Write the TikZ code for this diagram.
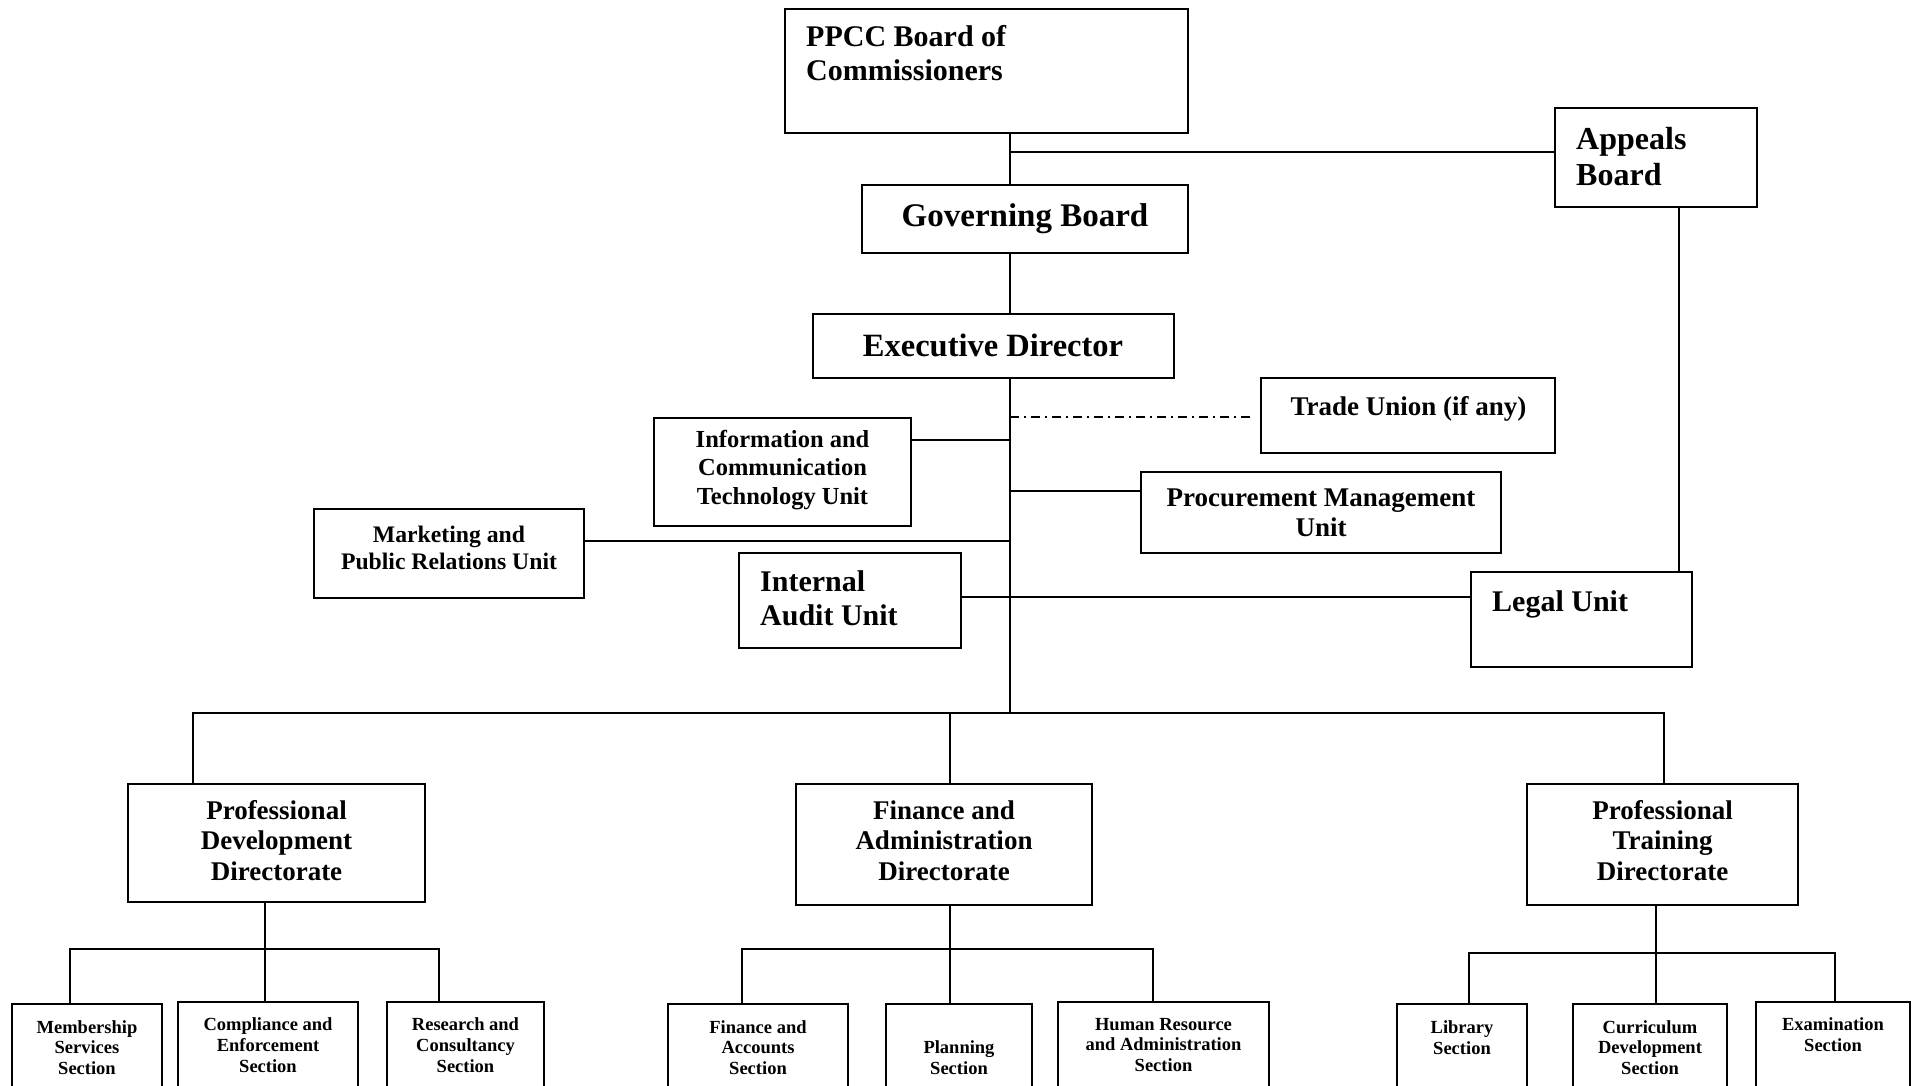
\documentclass[tikz,border=0pt]{standalone}
\usepackage{fontspec}
\setmainfont{Liberation Serif}
\newcommand\fsz[2]{\fontsize{#1}{#2}\selectfont\bfseries}
\newcommand\obox[5]{\node[box, minimum width={(#4)-(#2)}, minimum height={(#5)-(#3)}] (#1) at ({((#2)+(#4))/2},{((#3)+(#5))/2}) {};}
\tikzset{
  box/.style={draw, rectangle, line width=2pt, inner sep=0pt, fill=white},
  lbl/.style={inner sep=0pt, align=center},
  lbll/.style={inner sep=0pt, align=left, anchor=west},
  conn/.style={line width=2pt, line cap=rect},
  dashdotline/.style={line width=1.5pt, dash pattern=on 9pt off 5pt on 2pt off 5pt},
}
\begin{document}
\begin{tikzpicture}[x=1pt, y=-1pt]
\useasboundingbox (0,0) rectangle (1914,1086);
\clip (0,0) rectangle (1914,1086);
\fill[white] (0,0) rectangle (1914,1086);

% reference coordinates for vertical lines
\coordinate (tx) at (1010,0);
\coordinate (ax) at (1679,0);

\coordinate (ja) at (1010,152);
\coordinate (c0) at (1010,417);
\coordinate (c1) at (1010,440);
\coordinate (c2) at (1010,491);
\coordinate (c3) at (1010,541);
\coordinate (c4) at (1010,597);
\coordinate (bus) at (1010,713);
\coordinate (b1) at (193,713);
\coordinate (b2) at (950,713);
\coordinate (b3) at (1664,713);
\coordinate (p1) at (70,949);
\coordinate (p2) at (265,949);
\coordinate (p3) at (439,949);
\coordinate (f1) at (742,949);
\coordinate (f2) at (950,949);
\coordinate (f3) at (1153,949);
\coordinate (t1) at (1469,953);
\coordinate (t2) at (1656,953);
\coordinate (t3) at (1835,953);

% boxes
\obox{ppcc}{785}{9}{1188}{133}
\obox{appeals}{1555}{108}{1757}{207}
\obox{gov}{862}{185}{1188}{253}
\obox{ed}{813}{314}{1174}{378}
\obox{trade}{1261}{378}{1555}{453}
\obox{ict}{654}{418}{911}{526}
\obox{proc}{1141}{472}{1501}{553}
\obox{mkt}{314}{509}{584}{598}
\obox{audit}{739}{553}{961}{648}
\obox{legal}{1471}{572}{1692}{667}
\obox{pdd}{128}{784}{425}{902}
\obox{fad}{796}{784}{1092}{905}
\obox{ptd}{1527}{784}{1798}{905}
\obox{mem}{12}{1004}{162}{1100}
\obox{comp}{178}{1002}{358}{1100}
\obox{res}{387}{1002}{544}{1100}
\obox{fa}{668}{1004}{848}{1100}
\obox{plan}{886}{1004}{1032}{1100}
\obox{hr}{1058}{1002}{1269}{1100}
\obox{lib}{1397}{1004}{1527}{1100}
\obox{cur}{1573}{1004}{1727}{1100}
\obox{exam}{1756}{1002}{1910}{1100}

% connectors
\draw[conn] (ppcc.south -| tx) -- (gov.north -| tx);
\draw[conn] (ja) -- (ja -| appeals.west);
\draw[conn] (appeals.south -| ax) -- (legal.north -| ax);
\draw[conn] (gov.south -| tx) -- (ed.north -| tx);
\draw[conn] (ed.south -| tx) -- (bus);
\draw[dashdotline] (c0) -- ([xshift=-6pt]c0 -| trade.west);
\draw[conn] (c1) -- (c1 -| ict.east);
\draw[conn] (c2) -- (c2 -| proc.west);
\draw[conn] (c3) -- (c3 -| mkt.east);
\draw[conn] (c4 -| audit.east) -- (c4 -| legal.west);
\draw[conn] (b1) -- (b3);
\draw[conn] (b1) -- (pdd.north -| b1);
\draw[conn] (b2) -- (fad.north -| b2);
\draw[conn] (b3) -- (ptd.north -| b3);
% PDD sections
\draw[conn] (pdd.south -| p2) -- (p2);
\draw[conn] (p1) -- (p3);
\draw[conn] (p1) -- (mem.north -| p1);
\draw[conn] (p2) -- (comp.north -| p2);
\draw[conn] (p3) -- (res.north -| p3);
% FAD sections
\draw[conn] (fad.south -| f2) -- (f2);
\draw[conn] (f1) -- (f3);
\draw[conn] (f1) -- (fa.north -| f1);
\draw[conn] (f2) -- (plan.north -| f2);
\draw[conn] (f3) -- (hr.north -| f3);
% PTD sections
\draw[conn] (ptd.south -| t2) -- (t2);
\draw[conn] (t1) -- (t3);
\draw[conn] (t1) -- (lib.north -| t1);
\draw[conn] (t2) -- (cur.north -| t2);
\draw[conn] (t3) -- (exam.north -| t3);

% labels
\node[lbll, font=\fsz{30}{34}] (ppcct) at (806,53) {PPCC Board of\\Commissioners};
\node[lbll, font=\fsz{32}{36}] (appealst) at (1576,157) {Appeals\\Board};
\node[lbl, font=\fsz{33}{38}] (govt) at (1025,219) {Governing Board};
\node[lbl, font=\fsz{32.5}{37}] (edt) at (993,345) {Executive Director};
\node[lbl, font=\fsz{27}{31}] (tradet) at (1408.5,408.5) {Trade Union (if any)};
\node[lbl, font=\fsz{24.5}{28.5}] (ictt) at (782.5,470) {Information and\\Communication\\Technology Unit};
\node[lbl, font=\fsz{27}{30}] (proct) at (1321,513) {Procurement Management\\Unit};
\node[lbl, font=\fsz{23.7}{27}] (mktt) at (449,547.5) {Marketing and\\Public Relations Unit};
\node[lbll, font=\fsz{30}{34}] (auditt) at (760,598) {Internal\\Audit Unit};
\node[lbll, font=\fsz{30}{34}] (legalt) at (1492,604.5) {Legal Unit};
\node[lbl, font=\fsz{27}{30.5}] (pddt) at (276.5,840.5) {Professional\\Development\\Directorate};
\node[lbl, font=\fsz{27}{30.5}] (fadt) at (944,840.5) {Finance and\\Administration\\Directorate};
\node[lbl, font=\fsz{27}{30.5}] (ptdt) at (1662.5,840.5) {Professional\\Training\\Directorate};
\node[lbl, font=\fsz{18.5}{20.8}] (memt) at (87,1047.5) {Membership\\Services\\Section};
\node[lbl, font=\fsz{18.5}{20.8}] (compt) at (268,1045) {Compliance and\\Enforcement\\Section};
\node[lbl, font=\fsz{18.5}{20.8}] (rest) at (465.5,1045) {Research and\\Consultancy\\Section};
\node[lbl, font=\fsz{18.5}{20.8}] (fat) at (758,1047.5) {Finance and\\Accounts\\Section};
\node[lbl, font=\fsz{18.5}{20.8}] (plant) at (959,1058) {Planning\\Section};
\node[lbl, font=\fsz{18.5}{20.8}] (hrt) at (1163.5,1045) {Human Resource\\and Administration\\Section};
\node[lbl, font=\fsz{18.5}{20.8}] (libt) at (1462,1037.5) {Library\\Section};
\node[lbl, font=\fsz{18.5}{20.8}] (curt) at (1650,1047.5) {Curriculum\\Development\\Section};
\node[lbl, font=\fsz{18.5}{20.8}] (examt) at (1833,1034.5) {Examination\\Section};
\end{tikzpicture}
\end{document}
